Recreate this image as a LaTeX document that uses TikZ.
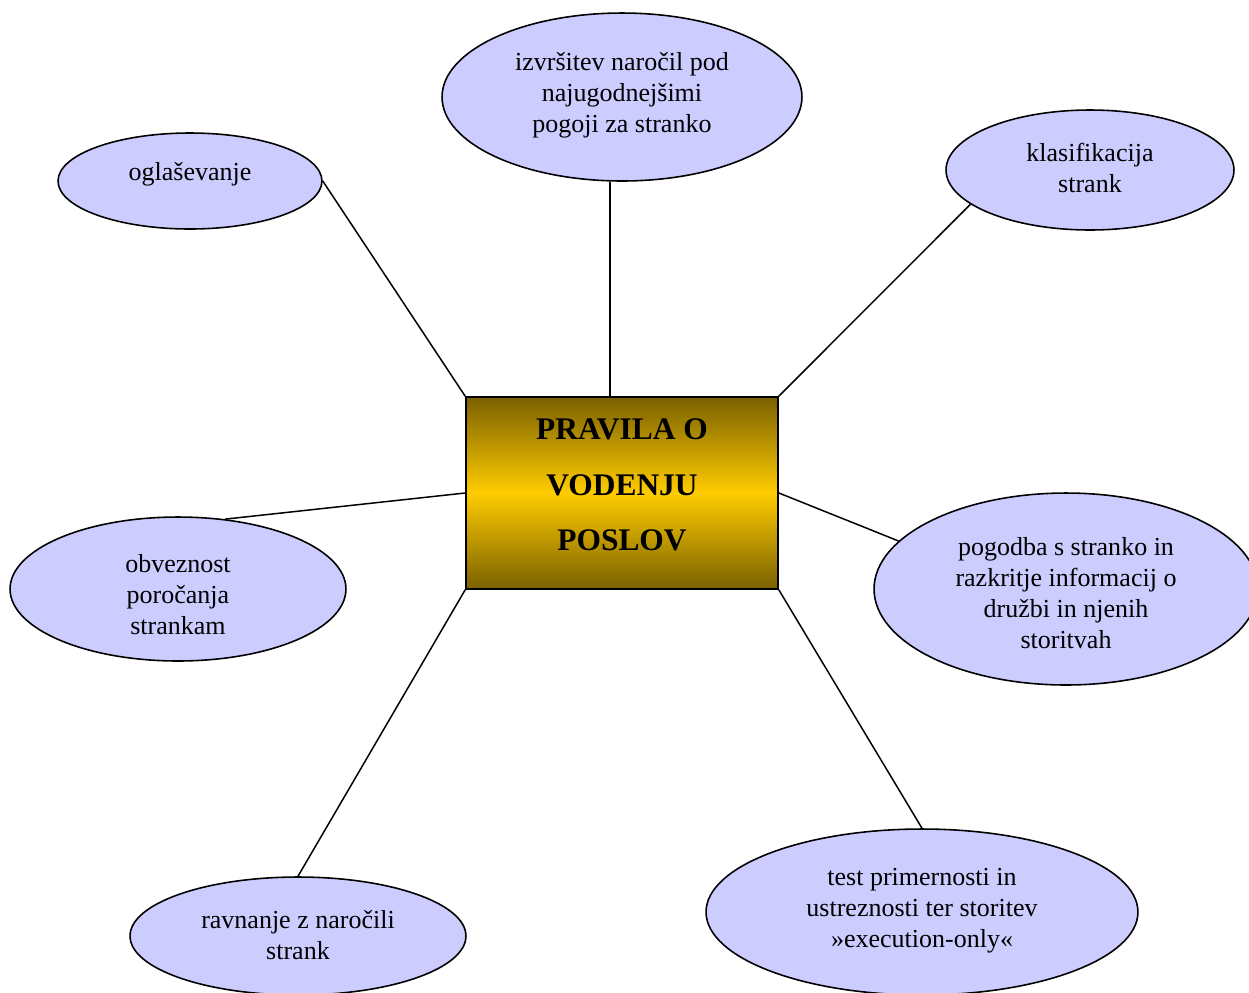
\documentclass[tikz,border=0pt]{standalone}
\usepackage{fontspec}
\setmainfont{Liberation Serif}
\usetikzlibrary{shapes.geometric}
\definecolor{bubble}{RGB}{204,204,255}
\definecolor{olive}{RGB}{122,96,0}
\definecolor{gold}{RGB}{255,204,0}
\tikzset{
  bubble/.style={ellipse, draw=black, line width=0.9pt, fill=bubble, inner sep=0pt},
  label/.style={align=center, font=\fontsize{14.8}{17.6}\selectfont, inner sep=0pt},
  link/.style={line width=0.85pt},
  core/.style={rectangle, draw=black, line width=1pt, minimum width=6.24cm, minimum height=3.84cm,
    top color=olive, bottom color=olive, middle color=gold, inner sep=0pt},
}
\begin{document}
\begin{tikzpicture}[x=0.02cm, y=-0.02cm]
\useasboundingbox (0,0) rectangle (1249,992);
\clip (0,0) rectangle (1249,992);

% central box
\node[core] (box) at (622,493) {};
\node[align=center, font=\bfseries\fontsize{17.9}{31.7}\selectfont, inner sep=0pt] (title) at (622,485)
  {PRAVILA O\\VODENJU\\POSLOV};

% surrounding ellipses
\node[bubble, minimum width=7.2cm, minimum height=3.36cm] (top) at (622,97) {};
\node[bubble, minimum width=5.28cm, minimum height=1.92cm] (ogl) at (190,181) {};
\node[bubble, minimum width=5.76cm, minimum height=2.4cm] (kl) at (1090,170) {};
\node[bubble, minimum width=6.72cm, minimum height=2.88cm] (obv) at (178,589) {};
\node[bubble, minimum width=7.68cm, minimum height=3.84cm] (pog) at (1066,589) {};
\node[bubble, minimum width=8.64cm, minimum height=3.32cm] (test) at (922,912) {};
\node[bubble, minimum width=6.72cm, minimum height=2.36cm] (rav) at (298,936) {};

% ellipse texts
\node[label] (t-top) at (622,95) {izvršitev naročil pod\\najugodnejšimi\\pogoji za stranko};
\node[label] (t-ogl) at (190,174) {oglaševanje};
\node[label] (t-kl) at (1090,168) {klasifikacija\\strank};
\node[label] (t-obv) at (178,595) {obveznost\\poročanja\\strankam};
\node[label] (t-pog) at (1066,593) {pogodba s stranko in\\razkritje informacij o\\družbi in njenih\\storitvah};
\node[label] (t-test) at (922,911) {test primernosti in\\ustreznosti ter storitev\\»execution-only«};
\node[label] (t-rav) at (298,935) {ravnanje z naročili\\strank};

% connectors
\draw[link] (box.north west) -- (ogl.east);
\draw[link] ([xshift=-0.24cm]box.north) -- ([xshift=-0.24cm]top.south);
\draw[link] (box.north east) -- (kl.196);
\draw[link] (box.west) -- (obv.56);
\draw[link] (box.east) -- (pog.164);
\draw[link] (box.south west) -- (rav.north);
\draw[link] (box.south east) -- (test.north);
\end{tikzpicture}
\end{document}
